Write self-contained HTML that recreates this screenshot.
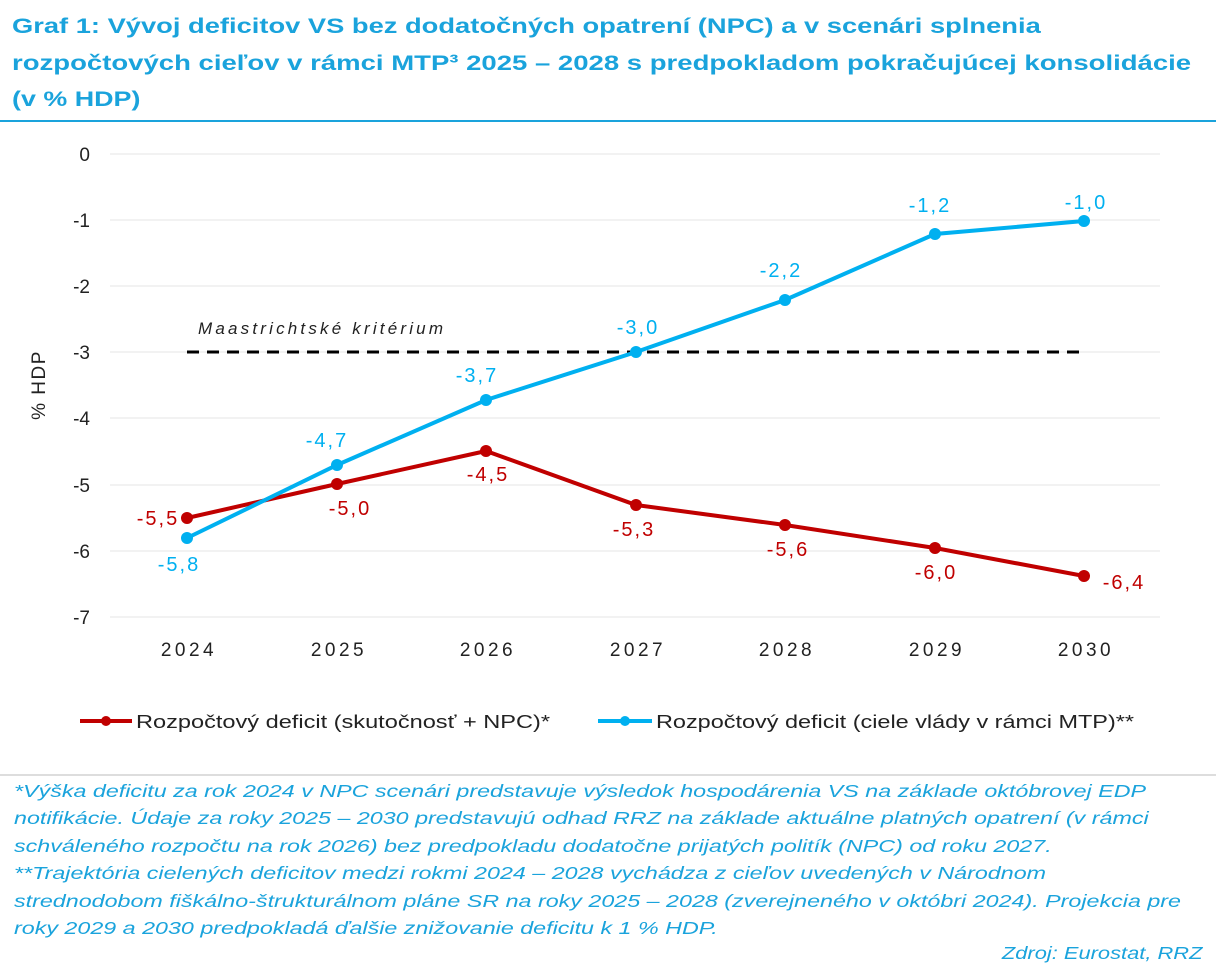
<!DOCTYPE html>
<html><head><meta charset="utf-8"><style>
body{margin:0;width:1216px;height:970px;background:#fff;font-family:"Liberation Sans",sans-serif;overflow:hidden;position:relative}
.t div{position:absolute;left:12px;color:#1aa3dc;font-weight:bold;font-size:21.5px;white-space:nowrap;transform-origin:0 0}
.fn div{position:absolute;left:14px;color:#1aa3dc;font-style:italic;font-size:17.5px;white-space:nowrap;transform:scaleX(1.33);transform-origin:0 0}
.src{position:absolute;right:14px;top:943px;color:#1aa3dc;font-style:italic;font-size:17.5px;transform:scaleX(1.25);transform-origin:100% 0}
</style></head><body>
<div class="t">
<div style="top:14px;transform:scaleX(1.27)">Graf 1: Vývoj deficitov VS bez dodatočných opatrení (NPC) a v scenári splnenia</div>
<div style="top:51px;transform:scaleX(1.28)">rozpočtových cieľov v rámci MTP³ 2025 – 2028 s predpokladom pokračujúcej konsolidácie</div>
<div style="top:87px;transform:scaleX(1.25)">(v % HDP)</div>
</div>
<div style="position:absolute;left:0;top:120px;width:1216px;height:2px;background:#1aa3dc"></div>
<svg width="1216" height="970" style="position:absolute;left:0;top:0" font-family="Liberation Sans, sans-serif">
<g stroke="#e4e4e4" stroke-width="1">
<line x1="110" x2="1160" y1="154" y2="154"/><line x1="110" x2="1160" y1="220" y2="220"/><line x1="110" x2="1160" y1="286" y2="286"/><line x1="110" x2="1160" y1="352" y2="352"/><line x1="110" x2="1160" y1="418" y2="418"/><line x1="110" x2="1160" y1="485" y2="485"/><line x1="110" x2="1160" y1="551" y2="551"/><line x1="110" x2="1160" y1="617" y2="617"/>
</g>
<g font-size="19" fill="#222" text-anchor="end">
<text x="90" y="161">0</text><text x="90" y="227">-1</text><text x="90" y="293">-2</text><text x="90" y="359">-3</text><text x="90" y="425">-4</text><text x="90" y="492">-5</text><text x="90" y="558">-6</text><text x="90" y="624">-7</text>
</g>
<text transform="translate(45,385) rotate(-90)" text-anchor="middle" font-size="19" fill="#222" letter-spacing="1.5">% HDP</text>
<g font-size="19" fill="#222" text-anchor="middle" letter-spacing="3.5">
<text x="189" y="656">2024</text><text x="339" y="656">2025</text><text x="488" y="656">2026</text><text x="638" y="656">2027</text><text x="787" y="656">2028</text><text x="937" y="656">2029</text><text x="1086" y="656">2030</text>
</g>
<line x1="187" x2="1084" y1="352" y2="352" stroke="#000" stroke-width="3" stroke-dasharray="12,8"/>
<text x="198" y="334" font-size="17" font-style="italic" fill="#222" textLength="245">Maastrichtské kritérium</text>
<polyline fill="none" stroke="#c00000" stroke-width="4" points="187,518 337,484 486,451 636,505 785,525 935,548 1084,576"/>
<g fill="#c00000"><circle cx="187" cy="518" r="6"/><circle cx="337" cy="484" r="6"/><circle cx="486" cy="451" r="6"/><circle cx="636" cy="505" r="6"/><circle cx="785" cy="525" r="6"/><circle cx="935" cy="548" r="6"/><circle cx="1084" cy="576" r="6"/></g>
<polyline fill="none" stroke="#00b0f0" stroke-width="4" points="187,538 337,465 486,400 636,352 785,300 935,234 1084,221"/>
<g fill="#00b0f0"><circle cx="187" cy="538" r="6"/><circle cx="337" cy="465" r="6"/><circle cx="486" cy="400" r="6"/><circle cx="636" cy="352" r="6"/><circle cx="785" cy="300" r="6"/><circle cx="935" cy="234" r="6"/><circle cx="1084" cy="221" r="6"/></g>
<g font-size="20" fill="#c00000" text-anchor="middle" letter-spacing="2">
<text x="158" y="525">-5,5</text><text x="350" y="515">-5,0</text><text x="488" y="481">-4,5</text><text x="634" y="536">-5,3</text><text x="788" y="556">-5,6</text><text x="936" y="579">-6,0</text><text x="1124" y="589">-6,4</text>
</g>
<g font-size="20" fill="#00b0f0" text-anchor="middle" letter-spacing="2">
<text x="179" y="571">-5,8</text><text x="327" y="447">-4,7</text><text x="477" y="382">-3,7</text><text x="638" y="334">-3,0</text><text x="781" y="277">-2,2</text><text x="930" y="212">-1,2</text><text x="1086" y="209">-1,0</text>
</g>
<line x1="80" x2="132" y1="721" y2="721" stroke="#c00000" stroke-width="4"/><circle cx="106" cy="721" r="5" fill="#c00000"/>
<text x="136" y="728" font-size="18" fill="#222" textLength="414" lengthAdjust="spacingAndGlyphs">Rozpočtový deficit (skutočnosť + NPC)*</text>
<line x1="598" x2="652" y1="721" y2="721" stroke="#00b0f0" stroke-width="4"/><circle cx="625" cy="721" r="5" fill="#00b0f0"/>
<text x="656" y="728" font-size="18" fill="#222" textLength="478" lengthAdjust="spacingAndGlyphs">Rozpočtový deficit (ciele vlády v rámci MTP)**</text>
<line x1="0" x2="1216" y1="775" y2="775" stroke="#bbb" stroke-width="1"/>
</svg>
<div class="fn">
<div style="top:781px">*Výška deficitu za rok 2024 v NPC scenári predstavuje výsledok hospodárenia VS na základe októbrovej EDP</div>
<div style="top:808px">notifikácie. Údaje za roky 2025 – 2030 predstavujú odhad RRZ na základe aktuálne platných opatrení (v rámci</div>
<div style="top:836px">schváleného rozpočtu na rok 2026) bez predpokladu dodatočne prijatých politík (NPC) od roku 2027.</div>
<div style="top:863px">**Trajektória cielených deficitov medzi rokmi 2024 – 2028 vychádza z cieľov uvedených v Národnom</div>
<div style="top:891px">strednodobom fiškálno-štrukturálnom pláne SR na roky 2025 – 2028 (zverejneného v októbri 2024). Projekcia pre</div>
<div style="top:918px">roky 2029 a 2030 predpokladá ďalšie znižovanie deficitu k 1 % HDP.</div>
</div>
<div class="src">Zdroj: Eurostat, RRZ</div>
</body></html>
